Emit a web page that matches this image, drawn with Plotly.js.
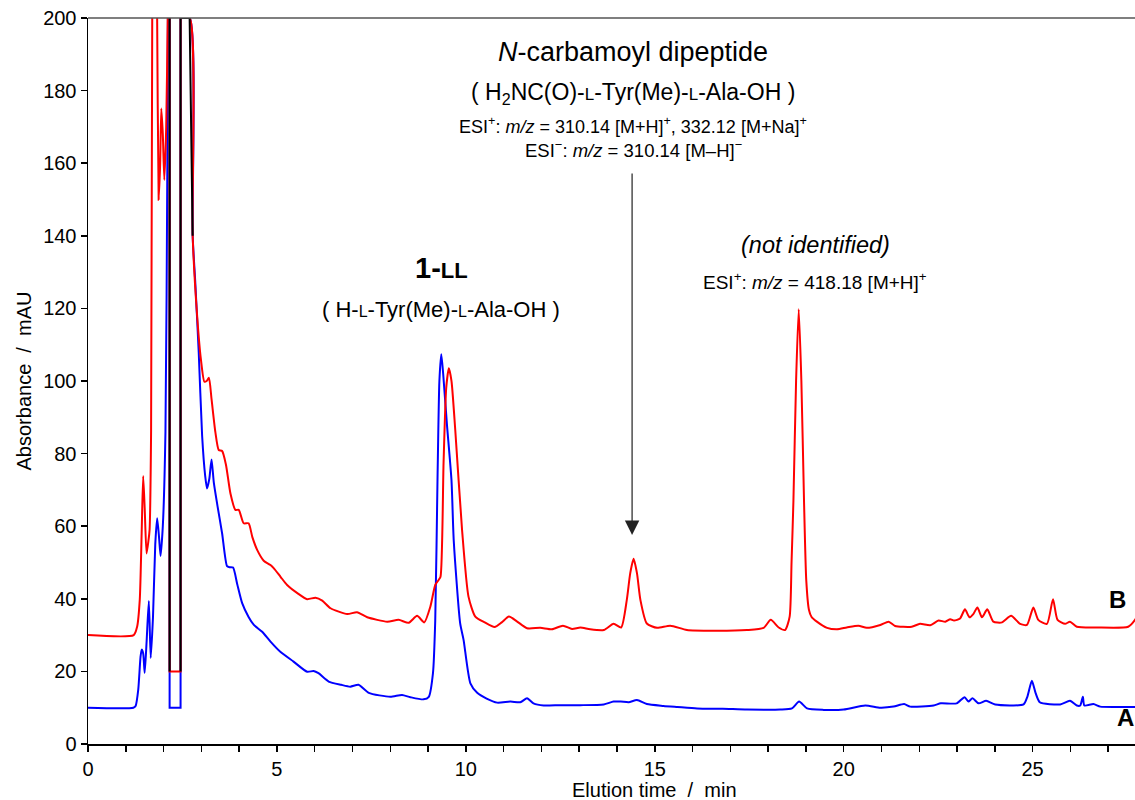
<!DOCTYPE html>
<html>
<head>
<meta charset="utf-8">
<script src="https://cdn.plot.ly/plotly-3.0.1.min.js"></script>
<style>html,body{margin:0;padding:0;background:#fff;}#chart{width:1135px;height:800px;}</style>
</head>
<body>
<div id="chart"></div>
<script>
// ---- Trace A (blue): elution time (min) / absorbance (mAU) ----
const timeA_pre = [0, 1.2, 1.26, 1.33, 1.39, 1.42, 1.46, 1.50, 1.55, 1.61, 1.66, 1.72, 1.78, 1.83, 1.88, 1.92, 1.98, 2.05, 2.10, 2.13, 2.16];
const absA_pre  = [10, 10, 10.5, 15, 24, 26, 25, 19.6, 28, 39.4, 23.7, 35, 55, 62.2, 57, 51.8, 60, 86, 160, 230, 240];
const timeA_gap = [2.16, 2.16, 2.45, 2.45];
const absA_gap  = [240, 10, 10, 200];
const timeA_post = [2.45, 2.69, 2.77, 2.84, 2.93, 3.02, 3.10, 3.15, 3.21, 3.27, 3.33, 3.43, 3.55, 3.68, 3.75, 3.84, 3.95, 4.08, 4.25, 4.39, 4.61, 4.83, 5.09, 5.44, 5.80, 5.97, 6.10, 6.37, 6.70, 6.94, 7.16, 7.43, 8.0, 8.31, 8.53, 8.88, 9.02, 9.13, 9.19, 9.25, 9.30, 9.35, 9.40, 9.50, 9.62, 9.68, 9.85, 9.94, 10.12, 10.30, 10.55, 10.83, 11.18, 11.44, 11.62, 11.79, 12.06, 12.5, 13.03, 13.65, 13.91, 14.10, 14.31, 14.53, 14.79, 15.23, 15.6, 16.12, 16.8, 17.44, 18.32, 18.63, 18.82, 19.03, 19.47, 20.0, 20.57, 20.97, 21.32, 21.60, 21.76, 22.38, 22.57, 22.99, 23.20, 23.30, 23.41, 23.57, 23.77, 24.01, 24.76, 24.86, 24.98, 25.08, 25.19, 25.73, 25.99, 26.17, 26.26, 26.33, 26.37, 26.61, 26.79, 27.3, 27.8];
const absA_post  = [200, 200, 140, 127, 108, 85, 74, 70.4, 73, 78.4, 72, 65.4, 58, 49, 48.7, 48.6, 44, 38.8, 35, 32.8, 30.9, 28.2, 25.4, 22.7, 19.9, 20.1, 19.5, 17.2, 16.3, 15.8, 16.3, 14.1, 13.0, 13.5, 12.9, 12.3, 13.0, 19.5, 34, 72.7, 100, 107.4, 102, 88, 72.7, 56, 33.2, 28.7, 16.7, 14.1, 12.5, 11.4, 11.7, 11.5, 12.6, 11.2, 10.6, 10.7, 10.7, 10.9, 11.7, 11.7, 11.5, 12.1, 11.0, 10.5, 10.2, 9.8, 9.7, 9.5, 9.5, 9.8, 11.7, 9.8, 9.4, 9.5, 10.6, 10.0, 10.3, 11.0, 10.3, 10.6, 11.2, 11.2, 12.9, 11.7, 12.6, 11.2, 11.9, 10.9, 10.9, 13.0, 17.4, 14.0, 11.5, 10.9, 11.9, 10.6, 10.6, 13.0, 10.6, 11.0, 10.3, 10.2, 10.2];

// ---- Trace B (red) ----
const timeB_pre = [0, 1.21, 1.30, 1.37, 1.42, 1.46, 1.50, 1.55, 1.60, 1.63, 1.67, 1.70, 1.765, 1.83, 1.87, 1.91, 1.94, 1.98, 2.02, 2.07, 2.11, 2.14, 2.16];
const absB_pre  = [30, 30, 32.3, 39.7, 58, 73.8, 65, 52.5, 56, 59, 86.5, 200, 260, 200, 149.9, 160, 175.1, 168, 155.4, 170, 200, 230, 240];
const timeB_gap = [2.16, 2.16, 2.45, 2.45];
const absB_gap  = [240, 20, 20, 200];
const timeB_post = [2.45, 2.69, 2.77, 2.89, 2.99, 3.08, 3.14, 3.20, 3.27, 3.37, 3.46, 3.55, 3.65, 3.77, 3.90, 3.99, 4.12, 4.25, 4.35, 4.48, 4.65, 4.83, 4.92, 5.1, 5.27, 5.55, 5.80, 6.02, 6.20, 6.42, 6.86, 7.12, 7.39, 7.92, 8.22, 8.49, 8.71, 8.90, 9.06, 9.19, 9.28, 9.33, 9.41, 9.48, 9.55, 9.62, 9.72, 9.90, 10.07, 10.25, 10.50, 10.76, 10.95, 11.14, 11.35, 11.62, 11.97, 12.28, 12.57, 12.81, 13.03, 13.29, 13.65, 13.91, 14.11, 14.26, 14.35, 14.44, 14.53, 14.62, 14.79, 15.06, 15.41, 15.85, 16.56, 17.44, 17.88, 18.07, 18.28, 18.45, 18.57, 18.62, 18.67, 18.74, 18.81, 18.88, 18.95, 19.01, 19.08, 19.15, 19.29, 19.56, 19.82, 20.08, 20.39, 20.61, 20.97, 21.19, 21.36, 21.80, 22.02, 22.29, 22.51, 22.69, 22.82, 22.92, 23.08, 23.21, 23.33, 23.43, 23.54, 23.66, 23.80, 23.96, 24.19, 24.43, 24.67, 24.85, 25.02, 25.15, 25.38, 25.54, 25.66, 25.86, 25.99, 26.17, 26.70, 27.53, 27.71, 27.8];
const absB_post  = [200, 200, 140, 117.7, 105.8, 99.8, 100, 100.9, 95, 86, 81, 80.7, 77, 69, 64.5, 64.5, 60.8, 60.8, 57, 53.4, 50.5, 49.3, 48.4, 46, 43.8, 41.5, 39.9, 40.3, 39.5, 37.4, 35.8, 36.3, 34.9, 33.7, 34.2, 33.4, 35.3, 33.5, 37.8, 43.8, 45.2, 46.1, 77.3, 98, 103.5, 100, 86.5, 59, 40.6, 35.1, 33.5, 32.2, 33.5, 35.1, 33.8, 31.9, 32.0, 31.6, 32.6, 31.7, 32.1, 31.6, 31.4, 33.1, 32.1, 39.7, 47, 51.0, 47, 39.7, 33.2, 32.0, 32.6, 31.4, 31.2, 31.4, 32.0, 34.2, 32.1, 31.4, 35.1, 50, 67, 100, 119.8, 100, 67, 45, 37, 35, 33.7, 32.0, 31.6, 32.1, 32.6, 32.0, 32.8, 33.7, 32.5, 32.3, 33.1, 32.7, 34.0, 33.7, 34.4, 34.0, 34.6, 37.1, 34.9, 35.8, 37.6, 34.9, 37.1, 33.7, 33.5, 35.3, 33.1, 32.8, 37.6, 34.2, 33.1, 39.9, 34.2, 33.1, 33.7, 32.3, 32.1, 32.3, 34.2, 36];

// Segments where traces A and B coincide (rendered dark)
const timeOverlap = [2.16, 2.16, null, 2.45, 2.45, 2.69, 2.77];
const absOverlap  = [20, 200, null, 20, 200, 200, 140];

const xTicks = [0, 5, 10, 15, 20, 25];
const yTicks = [0, 20, 40, 60, 80, 100, 120, 140, 160, 180, 200];

const FONT = 'Liberation Sans, Arial, Helvetica, sans-serif';
const sc = (t, s) => '<span style="font-size:' + s + 'px">' + t + '</span>';
const BLUE = '#0000ff', RED = '#ff0000';

function seg(x, y, color, shape) {
  return {x: x, y: y, mode: 'lines', line: {color: color, width: 2, shape: shape, smoothing: 0.6}, hoverinfo: 'skip'};
}

const traces = [
  seg(timeA_pre, absA_pre, BLUE, 'spline'),
  seg(timeA_gap, absA_gap, BLUE, 'linear'),
  seg(timeA_post, absA_post, BLUE, 'spline'),
  seg(timeB_pre, absB_pre, RED, 'spline'),
  seg(timeB_gap, absB_gap, RED, 'linear'),
  seg(timeB_post, absB_post, RED, 'spline'),
  seg(timeOverlap, absOverlap, '#000000', 'linear')
];

const annotations = [
  {x: 14.43, y: 190.7, xref: 'x', yref: 'y', text: '<i>N</i>-carbamoyl dipeptide', showarrow: false, font: {size: 27, color: '#000', family: FONT}},
  {x: 14.43, y: 179.3, xref: 'x', yref: 'y', text: '( H<sub>2</sub>NC(O)-' + sc('L', 17) + '-Tyr(Me)-' + sc('L', 17) + '-Ala-OH )', showarrow: false, font: {size: 23, color: '#000', family: FONT}},
  {x: 14.43, y: 170.4, xref: 'x', yref: 'y', text: 'ESI<sup>+</sup>: <i>m/z</i> = 310.14 [M+H]<sup>+</sup>, 332.12 [M+Na]<sup>+</sup>', showarrow: false, font: {size: 18, color: '#000', family: FONT}},
  {x: 14.43, y: 163.9, xref: 'x', yref: 'y', text: 'ESI<sup>\u2212</sup>: <i>m/z</i> = 310.14 [M\u2013H]<sup>\u2212</sup>', showarrow: false, font: {size: 18.5, color: '#000', family: FONT}},
  {x: 14.40, y: 57.6, ax: 14.40, ay: 157.6, xref: 'x', yref: 'y', axref: 'x', ayref: 'y', text: '', showarrow: true, arrowhead: 2, arrowsize: 2.4, arrowwidth: 1.2, arrowcolor: '#222'},
  {x: 9.35, y: 131.1, xref: 'x', yref: 'y', text: '<b>1-' + sc('LL', 22) + '</b>', showarrow: false, font: {size: 29, color: '#000', family: FONT}},
  {x: 9.35, y: 119.6, xref: 'x', yref: 'y', text: '( H-' + sc('L', 16) + '-Tyr(Me)-' + sc('L', 16) + '-Ala-OH )', showarrow: false, font: {size: 22, color: '#000', family: FONT}},
  {x: 19.25, y: 137.5, xref: 'x', yref: 'y', text: '<i>(not identified)</i>', showarrow: false, font: {size: 23.5, color: '#000', family: FONT}},
  {x: 19.25, y: 127.5, xref: 'x', yref: 'y', text: 'ESI<sup>+</sup>: <i>m/z</i> = 418.18 [M+H]<sup>+</sup>', showarrow: false, font: {size: 19, color: '#000', family: FONT}},
  {x: 27.24, y: 39.7, xref: 'x', yref: 'y', text: '<b>B</b>', showarrow: false, font: {size: 24, color: '#000', family: FONT}},
  {x: 27.45, y: 7.2, xref: 'x', yref: 'y', text: '<b>A</b>', showarrow: false, font: {size: 24, color: '#000', family: FONT}},
  // x-axis title (centred on the full 0–30 min run)
  {x: 15, y: -0.064, xref: 'x', yref: 'paper', yanchor: 'middle', text: 'Elution time  /  min', showarrow: false, font: {size: 20, color: '#000', family: FONT}}
];

const layout = {
  width: 1135, height: 800,
  margin: {l: 88, r: 0, t: 18, b: 56, pad: 0},
  paper_bgcolor: '#fff', plot_bgcolor: '#fff',
  showlegend: false,
  font: {family: FONT, color: '#000', size: 18},
  xaxis: {
    range: [0, 27.71], showgrid: false, zeroline: false,
    showline: true, linecolor: '#000', linewidth: 1.5,
    ticks: 'outside', ticklen: 6, tickwidth: 1.5, tickcolor: '#000',
    tickvals: xTicks, ticktext: xTicks.map(String),
    minor: {dtick: 1, tick0: 0, ticks: 'outside', ticklen: 6, tickwidth: 1.5, tickcolor: '#000'},
    tickfont: {size: 20, family: FONT},
    automargin: false
  },
  yaxis: {
    range: [0, 200], showgrid: false, zeroline: false,
    showline: true, linecolor: '#000', linewidth: 1.5,
    ticks: 'outside', ticklen: 6, tickwidth: 1.5, tickcolor: '#000',
    tickvals: yTicks, ticktext: yTicks.map(String),
    tickfont: {size: 20, family: FONT},
    title: {text: 'Absorbance  /  mAU', font: {size: 20, family: FONT}, standoff: 6},
    automargin: false
  },
  shapes: [
    {type: 'line', xref: 'paper', yref: 'paper', x0: 0, x1: 1, y0: 1, y1: 1, line: {color: '#555', width: 1.5}, layer: 'above'}
  ],
  annotations: annotations
};

Plotly.newPlot('chart', traces, layout, {displayModeBar: false, staticPlot: true});
</script>
</body>
</html>
